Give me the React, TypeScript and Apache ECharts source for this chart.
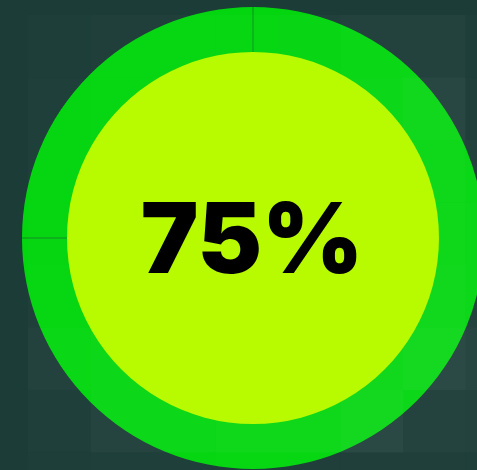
import React, { useEffect, useRef } from "react";
import * as echarts from "echarts";

const progressLabel = "75%";
const ringValues = [75, 25];
const innerValues = [100];

// white overlay opacity per background tile (rows top->bottom, cols left->right)
const tileAlpha: number[][] = [
  [0, 0, 0, 0, 0, 0, 0, 0, 0],
  [0, 0.01, 0.02, 0.02, 0.02, 0.025, 0.03, 0.03, 0.012],
  [0, 0.015, 0.02, 0.03, 0.03, 0.03, 0.04, 0.06, 0.02],
  [0, 0.015, 0.025, 0.03, 0.03, 0.035, 0.045, 0.05, 0.03],
  [0, 0.015, 0.03, 0.03, 0.035, 0.04, 0.045, 0.05, 0.04],
  [0, 0.02, 0.03, 0.035, 0.04, 0.045, 0.05, 0.06, 0.04],
  [0, 0.03, 0.04, 0.045, 0.05, 0.055, 0.06, 0.075, 0.055],
  [0.005, 0.015, 0.045, 0.04, 0.05, 0.05, 0.065, 0.04, 0.03],
  [0, 0.01, 0.015, 0.015, 0.02, 0.02, 0.02, 0.02, 0.015],
];

export default function App() {
  const ref = useRef<HTMLDivElement>(null);
  useEffect(() => {
    document.body.style.margin = "0";
    const chart = echarts.init(ref.current!, undefined, { renderer: "svg" });
    const tile = 62.5;
    const x0 = 28 - tile;
    const y0 = 15 - tile;
    const tiles: any[] = [];
    tileAlpha.forEach((row, r) => {
      row.forEach((a, c) => {
        tiles.push({
          type: "rect",
          z: 5,
          silent: true,
          shape: { x: x0 + c * tile, y: y0 + r * tile, width: tile, height: tile },
          style: { fill: `rgba(255,255,255,${a})` },
        });
      });
    });
    const cx = 253;
    const cy = 238;
    chart.setOption({
      animation: false,
      backgroundColor: "#1c3c37",
      series: [
        {
          type: "pie",
          z: 1,
          center: [cx, cy],
          radius: [185, 231],
          startAngle: 90,
          clockwise: true,
          padAngle: 0.12,
          silent: true,
          label: { show: false },
          labelLine: { show: false },
          itemStyle: { color: "#03d60f", borderWidth: 0 },
          data: ringValues.map((v) => ({ value: v })),
        },
        {
          type: "pie",
          z: 10,
          center: [cx, cy],
          radius: [0, 186],
          silent: true,
          label: { show: false },
          labelLine: { show: false },
          itemStyle: { color: "#b8fa00", borderWidth: 0 },
          data: innerValues.map((v) => ({ value: v })),
        },
      ],
      graphic: [
        ...tiles,
        {
          type: "text",
          z: 20,
          x: 252,
          y: 237,
          style: {
            text: progressLabel,
            fontFamily: "Inter",
            fontWeight: 900,
            fontSize: 97,
            fill: "#000",
            align: "center",
            verticalAlign: "middle",
          },
        },
      ],
    });
    return () => chart.dispose();
  }, []);
  return <div ref={ref} style={{ width: 477, height: 470 }} />;
}
